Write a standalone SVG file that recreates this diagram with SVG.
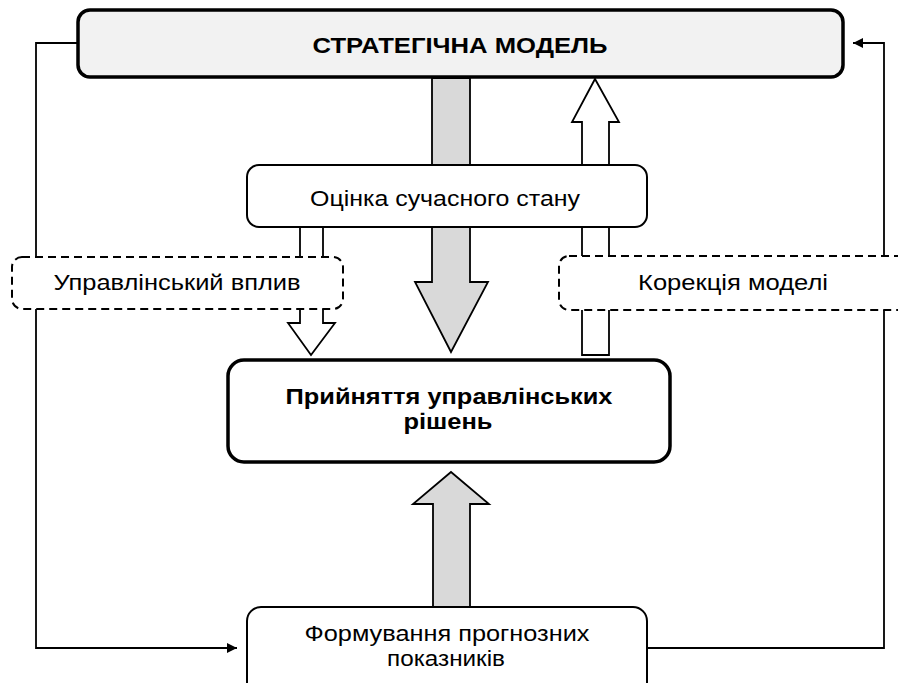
<svg xmlns="http://www.w3.org/2000/svg" width="898" height="683" viewBox="0 0 898 683">
<defs>
<marker id="ah" markerWidth="10" markerHeight="10" refX="10" refY="5" orient="auto" markerUnits="userSpaceOnUse">
<path d="M0,0 L10,5 L0,10 Z" fill="#000"/>
</marker>
<style>
.t{font-family:"Liberation Sans",Arial,sans-serif;font-size:22px;fill:#000;text-anchor:middle}
.b{font-weight:bold}
.line{fill:none;stroke:#000;stroke-width:1.8}
.gray{fill:#d9d9d9;stroke:#000;stroke-width:1.8;stroke-linejoin:miter}
.white{fill:#fff;stroke:#000;stroke-width:1.8}
.box{fill:#fff;stroke:#000;stroke-width:2}
.thick{fill:#fff;stroke:#000;stroke-width:3.5}
.dash{fill:#fff;stroke:#000;stroke-width:2;stroke-dasharray:8 5}
</style>
</defs>
<rect width="898" height="683" fill="#fff"/>
<g id="connectors">
<polyline class="line" points="77,43 36,43 36,257"/>
<polyline class="line" points="36,309 36,648 237,648" marker-end="url(#ah)"/>
<polyline class="line" points="647,648 884,648 884,310"/>
<polyline class="line" points="884,256 884,43 853,43" marker-end="url(#ah)"/>
<polygon class="gray" points="432,78 470,78 470,282 488,282 451,352 415,282 432,282"/>
<polygon class="white" points="582,355 609,355 609,122 619,122 595,79 572,122 582,122"/>
<polygon class="white" points="300,227 323,227 323,323 335,323 311,355 288,323 300,323"/>
<polygon class="gray" points="433,607 470,607 470,504 489,504 451,472 413,504 433,504"/>
</g>
<g id="strategic">
<rect x="78" y="10" width="765" height="67" rx="12" fill="#f2f2f2" stroke="#000" stroke-width="3.5"/>
<text class="t b" x="460" y="53" textLength="295" lengthAdjust="spacingAndGlyphs">СТРАТЕГІЧНА МОДЕЛЬ</text>
</g>
<g id="assessment">
<rect class="box" x="247" y="165" width="400" height="62" rx="12"/>
<text class="t" x="445" y="206" textLength="270" lengthAdjust="spacingAndGlyphs">Оцінка сучасного стану</text>
</g>
<g id="influence">
<rect class="dash" x="12" y="257" width="331" height="52" rx="10"/>
<text class="t" x="177" y="290" textLength="247" lengthAdjust="spacingAndGlyphs">Управлінський вплив</text>
</g>
<g id="correction">
<rect class="dash" x="559" y="256" width="350" height="54" rx="10"/>
<text class="t" x="733" y="290" textLength="190" lengthAdjust="spacingAndGlyphs">Корекція моделі</text>
</g>
<g id="decision">
<rect class="thick" x="228" y="360" width="442" height="102" rx="16"/>
<text class="t b" x="449" y="404" textLength="327" lengthAdjust="spacingAndGlyphs">Прийняття управлінських</text>
<text class="t b" x="448" y="429" textLength="89" lengthAdjust="spacingAndGlyphs">рішень</text>
</g>
<g id="forecast">
<rect class="box" x="247" y="607" width="400" height="90" rx="14"/>
<text class="t" x="447" y="641" textLength="285" lengthAdjust="spacingAndGlyphs">Формування прогнозних</text>
<text class="t" x="446" y="666" textLength="118" lengthAdjust="spacingAndGlyphs">показників</text>
</g>
</svg>
